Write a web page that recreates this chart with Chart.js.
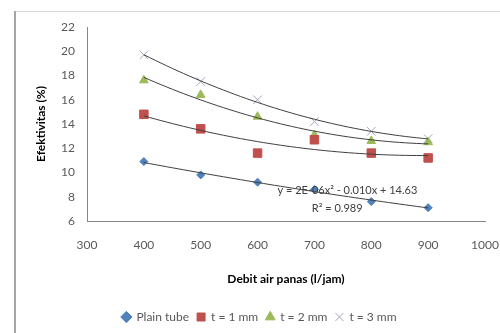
<!DOCTYPE html>
<html>
<head>
<meta charset="utf-8">
<script src="https://cdn.jsdelivr.net/npm/chart.js@4"></script>
<style>
  html, body { margin: 0; padding: 0; background: #fff; }
  #wrap { width: 500px; height: 333px; }
</style>
</head>
<body>
<div id="wrap"><canvas id="chart" width="500" height="333"></canvas></div>
<script>
// Data
const debit = [400, 500, 600, 700, 800, 900];
const plainTube = [10.9, 9.8, 9.2, 8.6, 7.6, 7.1];
const t1mm = [14.8, 13.6, 11.6, 12.7, 11.6, 11.2];
const t2mm = [17.6, 16.4, 14.6, 13.1, 12.6, 12.5];
const t3mm = [19.7, 17.5, 16.0, 14.2, 13.4, 12.8];

const seriesNames = ['Plain tube', 't = 1 mm', 't = 2 mm', 't = 3 mm'];
const xTicks = [300, 400, 500, 600, 700, 800, 900, 1000];
const yTicks = [6, 8, 10, 12, 14, 16, 18, 20, 22];
const equationText = 'y = 2E-06x\u00b2 - 0.010x + 14.63';
const r2Text = 'R\u00b2 = 0.989';

const colors = ['#4F81BD', '#C0504D', '#9BBB59', '#A6A6C0'];
const styles = ['rectRot', 'rect', 'triangle', 'crossRot'];
const radii = [4, 6, 5, 6];
const allSeries = [plainTube, t1mm, t2mm, t3mm];

// least squares quadratic fit (Excel style polynomial trendline)
function quadFit(xs, ys) {
    let s = [0, 0, 0, 0, 0], t = [0, 0, 0];
    for (let i = 0; i < xs.length; i++) {
        let p = 1;
        for (let k = 0; k < 5; k++) { s[k] += p; if (k < 3) t[k] += p * ys[i]; p *= xs[i]; }
    }
    const m = [[s[0], s[1], s[2], t[0]], [s[1], s[2], s[3], t[1]], [s[2], s[3], s[4], t[2]]];
    for (let c = 0; c < 3; c++) {
        for (let r = c + 1; r < 3; r++) {
            const f = m[r][c] / m[c][c];
            for (let k = c; k < 4; k++) m[r][k] -= f * m[c][k];
        }
    }
    const a = [0, 0, 0];
    for (let r = 2; r >= 0; r--) {
        let v = m[r][3];
        for (let k = r + 1; k < 3; k++) v -= m[r][k] * a[k];
        a[r] = v / m[r][r];
    }
    return x => a[0] + a[1] * x + a[2] * x * x;
}

const datasets = [];
allSeries.forEach(function(vals, i) {
    datasets.push({
        label: seriesNames[i],
        data: debit.map((x, j) => ({x: x, y: vals[j]})),
        showLine: false,
        pointStyle: styles[i],
        pointRadius: radii[i],
        pointBackgroundColor: colors[i],
        pointBorderColor: colors[i],
        pointBorderWidth: 1,
        backgroundColor: colors[i],
        borderColor: colors[i],
        order: 2
    });
});
allSeries.forEach(function(vals, i) {
    const f = quadFit(debit, vals);
    const pts = [];
    for (let x = debit[0]; x <= debit[debit.length - 1]; x += 10) pts.push({x: x, y: f(x)});
    datasets.push({
        label: 'trend' + i,
        data: pts,
        showLine: true,
        pointRadius: 0,
        borderColor: '#404040',
        borderWidth: 1,
        tension: 0,
        order: 1
    });
});

const framePlugin = {
    id: 'frame',
    beforeDraw(chart) {
        const c = chart.ctx;
        c.save();
        c.fillStyle = '#fff';
        c.fillRect(0, 0, chart.width, chart.height);
        c.strokeStyle = '#d9d9d9';
        c.lineWidth = 1;
        c.beginPath(); c.moveTo(15, 11.5); c.lineTo(500, 11.5); c.stroke();
        c.strokeStyle = '#a6a6a6';
        c.lineWidth = 2;
        c.beginPath(); c.moveTo(15, 11); c.lineTo(15, 333); c.stroke();
        c.restore();
    },
    afterDatasetsDraw(chart) {
        const c = chart.ctx, xs = chart.scales.x, ys = chart.scales.y;
        c.save();
        c.fillStyle = '#404040';
        c.font = '11px Lato';
        c.textAlign = 'center';
        c.textBaseline = 'middle';
        c.fillText(equationText, xs.getPixelForValue(758), ys.getPixelForValue(8.5));
        c.fillText(r2Text, xs.getPixelForValue(740), ys.getPixelForValue(7.0));
        c.restore();
    }
};

const ctx = document.getElementById('chart');
new Chart(ctx, {
    type: 'scatter',
    data: { datasets: datasets },
    plugins: [framePlugin],
    options: {
        responsive: false,
        animation: false,
        layout: { padding: { left: 34, top: 27, right: 15, bottom: 0 } },
        plugins: {
            tooltip: { enabled: false },
            legend: {
                position: 'bottom',
                labels: {
                    filter: item => !item.text.startsWith('trend'),
                    usePointStyle: true,
                    boxWidth: 8,
                    boxHeight: 8,
                    padding: 8,
                    color: '#595959',
                    font: { family: 'Lato', size: 12 }
                }
            }
        },
        scales: {
            x: {
                type: 'linear',
                min: 300, max: 1000,
                afterBuildTicks: s => { s.ticks = xTicks.map(v => ({value: v})); },
                afterFit: s => { s.height = 82; s.paddingLeft = 0; s.paddingRight = 0; },
                grid: { display: false, drawTicks: false },
                border: { color: '#868686' },
                ticks: { color: '#595959', padding: 17, font: { family: 'Lato', size: 12 },
                         callback: v => String(v) },
                title: { display: true, text: 'Debit air panas (l/jam)', color: '#000',
                         font: { family: 'Lato', size: 12, weight: 'bold' }, padding: { top: 0, bottom: 17 } }
            },
            y: {
                min: 6, max: 22,
                afterBuildTicks: s => { s.ticks = yTicks.map(v => ({value: v})); },
                afterFit: s => { s.width = 53; },
                grid: { display: false, drawTicks: false },
                border: { color: '#868686' },
                ticks: { color: '#595959', padding: 12, font: { family: 'Lato', size: 12 } },
                title: { display: true, text: 'Efektivitas (%)', color: '#000',
                         font: { family: 'Lato', size: 12, weight: 'bold' }, padding: { top: 0, bottom: 0 } }
            }
        }
    }
});
</script>
</body>
</html>
